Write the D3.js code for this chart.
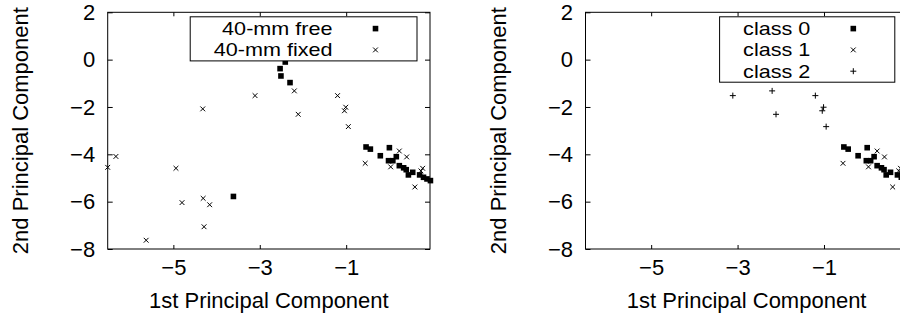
<!DOCTYPE html>
<html>
<head>
<meta charset="utf-8">
<script src="https://cdnjs.cloudflare.com/ajax/libs/d3/7.8.5/d3.min.js"></script>
<style>
body { margin: 0; background: #fff; }
svg { display: block; font-family: "Liberation Sans", Arial, sans-serif; }
</style>
</head>
<body>
<div id="chart"></div>
<script>
var xTicks = [-5, -3, -1];
var yTicks = [2, 0, -2, -4, -6, -8];
var xDomain = [-6.52, 0.94];
var yDomain = [-8, 2];
var xTitle = '1st Principal Component';
var yTitle = '2nd Principal Component';

// left panel
var free40 = [
  [-2.41, -0.10], [-2.53, -0.38], [-2.51, -0.69], [-2.30, -0.97], [-3.61, -5.78],
  [-0.54, -3.69], [-0.44, -3.78], [0.00, -3.72], [-0.21, -4.06], [-0.02, -4.27],
  [0.08, -4.27], [0.16, -4.10], [0.23, -4.48], [0.33, -4.57], [0.39, -4.65],
  [0.44, -4.87], [0.54, -4.76], [0.70, -4.87], [0.79, -4.97], [0.87, -5.04], [0.95, -5.11]
];
var fixed40 = [
  [-6.33, -4.09], [-6.52, -4.55], [-4.32, -2.08], [-3.11, -1.52], [-2.20, -1.32],
  [-2.11, -2.31], [-1.20, -1.52], [-1.01, -2.01], [-1.04, -2.16], [-0.95, -2.83],
  [-4.94, -4.59], [-4.80, -6.04], [-4.31, -5.86], [-4.16, -6.13], [-4.29, -7.06],
  [-5.63, -7.63], [-0.56, -4.38], [0.23, -3.86], [0.40, -4.11], [0.03, -4.53],
  [0.77, -4.59], [0.73, -4.70], [0.59, -5.38]
];

// right panel
var class0 = [
  [-0.54, -3.69], [-0.44, -3.78], [0.00, -3.72], [-0.21, -4.06], [-0.02, -4.27],
  [0.08, -4.27], [0.16, -4.10], [0.23, -4.48], [0.33, -4.57], [0.39, -4.65],
  [0.44, -4.87], [0.54, -4.76], [0.70, -4.87], [0.79, -4.97], [0.87, -5.04], [0.95, -5.11]
];
var class1 = [
  [-0.56, -4.38], [0.23, -3.86], [0.40, -4.11], [0.03, -4.53],
  [0.77, -4.59], [0.73, -4.70], [0.59, -5.38]
];
var class2 = [
  [-3.11, -1.52], [-2.20, -1.32], [-2.11, -2.31], [-1.20, -1.52],
  [-1.01, -2.01], [-1.04, -2.16], [-0.95, -2.83]
];

var svg = d3.select('#chart').append('svg')
  .attr('width', 900)
  .attr('height', 320);

// marker shapes, centred on cx, cy
var markPath = {
  square: function (cx, cy) {
    var h = 2.8;
    return 'M' + (cx - h) + ',' + (cy - h) + 'h' + 2 * h + 'v' + 2 * h + 'h' + (-2 * h) + 'Z';
  },
  cross: function (cx, cy) {
    var h = 2.4;
    return 'M' + (cx - h) + ',' + (cy - h) + 'L' + (cx + h) + ',' + (cy + h) +
      'M' + (cx - h) + ',' + (cy + h) + 'L' + (cx + h) + ',' + (cy - h);
  },
  plus: function (cx, cy) {
    var h = 3;
    return 'M' + (cx - h) + ',' + cy + 'L' + (cx + h) + ',' + cy +
      'M' + cx + ',' + (cy - h) + 'L' + cx + ',' + (cy + h);
  }
};

var drawMarks = function (g, data, shape, x, y) {
  g.append('g').selectAll('path').data(data)
    .enter().append('path')
    .attr('d', function (d) { return markPath[shape](x(d[0]), y(d[1])); })
    .attr('fill', shape === 'square' ? '#000' : 'none')
    .attr('stroke', '#000')
    .attr('stroke-width', shape === 'square' ? 0 : 1);
};

var panel = function (left, series) {
  var top = 12.3, bottom = 249, width = 322.3;
  var x = d3.scaleLinear().domain(xDomain).range([left, left + width]);
  var y = d3.scaleLinear().domain(yDomain).range([bottom, top]);
  var g = svg.append('g');

  g.append('g').attr('transform', 'translate(0,' + bottom + ')')
    .call(d3.axisBottom(x).tickValues(xTicks).tickSizeInner(-4).tickSizeOuter(0).tickPadding(10));
  g.append('g').attr('transform', 'translate(0,' + top + ')')
    .call(d3.axisTop(x).tickValues(xTicks).tickSizeInner(-4).tickSizeOuter(0).tickFormat(''));
  g.append('g').attr('transform', 'translate(' + left + ',0)')
    .call(d3.axisLeft(y).tickValues(yTicks).tickSizeInner(-5).tickSizeOuter(0).tickPadding(12.5));
  g.append('g').attr('transform', 'translate(' + (left + width) + ',0)')
    .call(d3.axisRight(y).tickValues(yTicks).tickSizeInner(-5).tickSizeOuter(0).tickFormat(''));

  g.selectAll('.domain').remove();
  g.selectAll('.tick line').attr('stroke', '#000');
  g.selectAll('.tick text').attr('font-size', 22).attr('font-family', null).attr('fill', '#000');

  g.append('rect')
    .attr('x', left).attr('y', top)
    .attr('width', width).attr('height', bottom - top)
    .attr('fill', 'none').attr('stroke', '#000').attr('stroke-width', 1);

  // axis titles
  g.append('text')
    .attr('x', left + width / 2).attr('y', 308)
    .attr('text-anchor', 'middle').attr('font-size', 22)
    .text(xTitle);
  g.append('text')
    .attr('transform', 'translate(' + (left - 80) + ',' + (top + bottom) / 2 + ') rotate(-90)')
    .attr('text-anchor', 'middle').attr('font-size', 22)
    .text(yTitle);

  // points
  series.forEach(function (s) { drawMarks(g, s.data, s.shape, x, y); });

  // legend (text is a bit wide in the original, so stretch it)
  var right = left + width - 13;
  var lt = top + 4.5, row = 21.3, stretch = 1.2;
  var lg = g.append('g');
  var box = lg.append('rect').attr('fill', '#fff').attr('stroke', '#000').attr('stroke-width', 1);
  var maxw = 0;
  series.forEach(function (s, i) {
    var cy = lt + 11.8 + i * row;
    var t = lg.append('text')
      .attr('transform', 'translate(' + (right - 84.5) + ',' + cy + ') scale(' + stretch + ',1)')
      .attr('dy', '0.35em')
      .attr('text-anchor', 'end').attr('font-size', 18)
      .text(s.name);
    maxw = Math.max(maxw, t.node().getComputedTextLength() * stretch);
    lg.append('path')
      .attr('d', markPath[s.shape](right - 41.5, cy))
      .attr('fill', s.shape === 'square' ? '#000' : 'none')
      .attr('stroke', '#000')
      .attr('stroke-width', s.shape === 'square' ? 0 : 1);
  });
  var bw = maxw + 84.5 + 23.5;
  box.attr('x', right - bw).attr('y', lt)
    .attr('width', bw).attr('height', series.length * row + 1.5);
};

panel(107.7, [
  { name: '40-mm free', shape: 'square', data: free40 },
  { name: '40-mm fixed', shape: 'cross', data: fixed40 }
]);
panel(585.5, [
  { name: 'class 0', shape: 'square', data: class0 },
  { name: 'class 1', shape: 'cross', data: class1 },
  { name: 'class 2', shape: 'plus', data: class2 }
]);
</script>
</body>
</html>
